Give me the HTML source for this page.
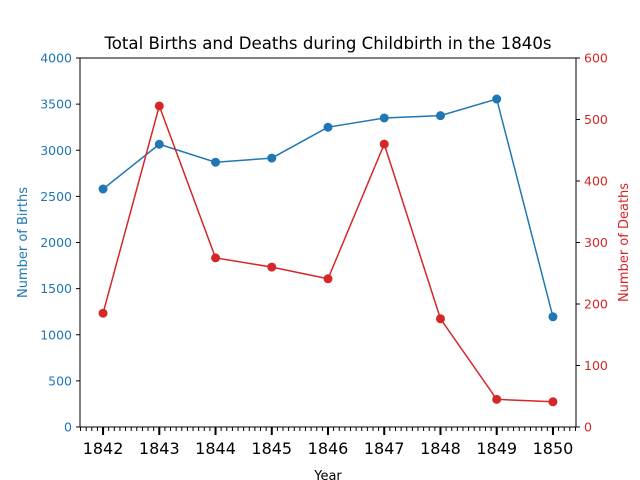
<!DOCTYPE html>
<html><head><meta charset="utf-8"><style>
body{margin:0;background:#fff}
svg{display:block;font-family:"DejaVu Sans","Liberation Sans",sans-serif}
</style></head><body>
<svg id="c" width="640" height="480">
<rect x="0" y="0" width="640" height="480" fill="#fff"/>
<text x="328" y="49" text-anchor="middle" font-size="16.6" fill="#000">Total Births and Deaths during Childbirth in the 1840s</text>
<g id="ticks"></g>
<g id="marks"></g>
<rect x="80" y="58" width="496" height="369" fill="none" stroke="#000" stroke-width="1"/>
<text x="328" y="480" text-anchor="middle" font-size="13">Year</text>
<text transform="translate(27,242.5) rotate(-90)" text-anchor="middle" font-size="13" fill="#1f77b4">Number of Births</text>
<text transform="translate(628,242.5) rotate(-90)" text-anchor="middle" font-size="13" fill="#d62728">Number of Deaths</text>
</svg>
<script>
const years = [1842,1843,1844,1845,1846,1847,1848,1849,1850];
const births = [2580,3065,2870,2915,3250,3350,3375,3555,1195];
const deaths = [185,522,275,260,241,460,176,45,41];
const birthTicks = [0,500,1000,1500,2000,2500,3000,3500,4000];
const deathTicks = [0,100,200,300,400,500,600];

const NS="http://www.w3.org/2000/svg";
const L=80,R=576,T=58,B=427;
const x=v=>L+(v-1841.59)/(1850.41-1841.59)*(R-L);
const yl=v=>B-v/4000*(B-T);
const yr=v=>B-v/600*(B-T);
function mk(tag,a,parent){const e=document.createElementNS(NS,tag);for(const k in a)e.setAttribute(k,a[k]);parent.appendChild(e);return e;}
const tg=document.getElementById('ticks'), mg=document.getElementById('marks');

for(let v=1841.6;v<=1850.41;v+=0.1){
  const r=Math.round(v*10)/10;
  if(Math.abs(r-Math.round(r))<1e-6) continue;
  const t=mk('line',{x1:x(r),x2:x(r),y1:B,y2:B+4,stroke:'#000','stroke-width':1},tg);
  
  
}
years.forEach(yv=>{
  const t=mk('line',{x1:x(yv),x2:x(yv),y1:B,y2:B+8,stroke:'#000','stroke-width':2},tg);
  
  
  const l=mk('text',{x:x(yv),y:B+27,'text-anchor':'middle','font-size':16},tg);
  l.textContent=yv;
  
  
});
birthTicks.forEach(v=>{
  const t=mk('line',{x1:L-4,x2:L,y1:yl(v),y2:yl(v),stroke:'#000'},tg);
  
  
  const l=mk('text',{x:L-8,y:yl(v)+4.5,'text-anchor':'end','font-size':12.5,fill:'#1f77b4'},tg);
  l.textContent=v;
  
  
});
deathTicks.forEach(v=>{
  const t=mk('line',{x1:R,x2:R+4,y1:yr(v),y2:yr(v),stroke:'#000'},tg);
  
  
  const l=mk('text',{x:R+8,y:yr(v)+4.5,'text-anchor':'start','font-size':12.5,fill:'#d62728'},tg);
  l.textContent=v;
  
  
});
function series(vals,yf,color,name){
  const p=mk('polyline',{points:vals.map((v,i)=>x(years[i])+','+yf(v)).join(' '),fill:'none',stroke:color,'stroke-width':1.5},mg);
  
  
  vals.forEach((v,i)=>{
    const c=mk('circle',{cx:x(years[i]),cy:yf(v),r:4.5,fill:color},mg);
    
    
  });
}
series(births,yl,'#1f77b4','births');
series(deaths,yr,'#d62728','deaths');
</script>
</body></html>
